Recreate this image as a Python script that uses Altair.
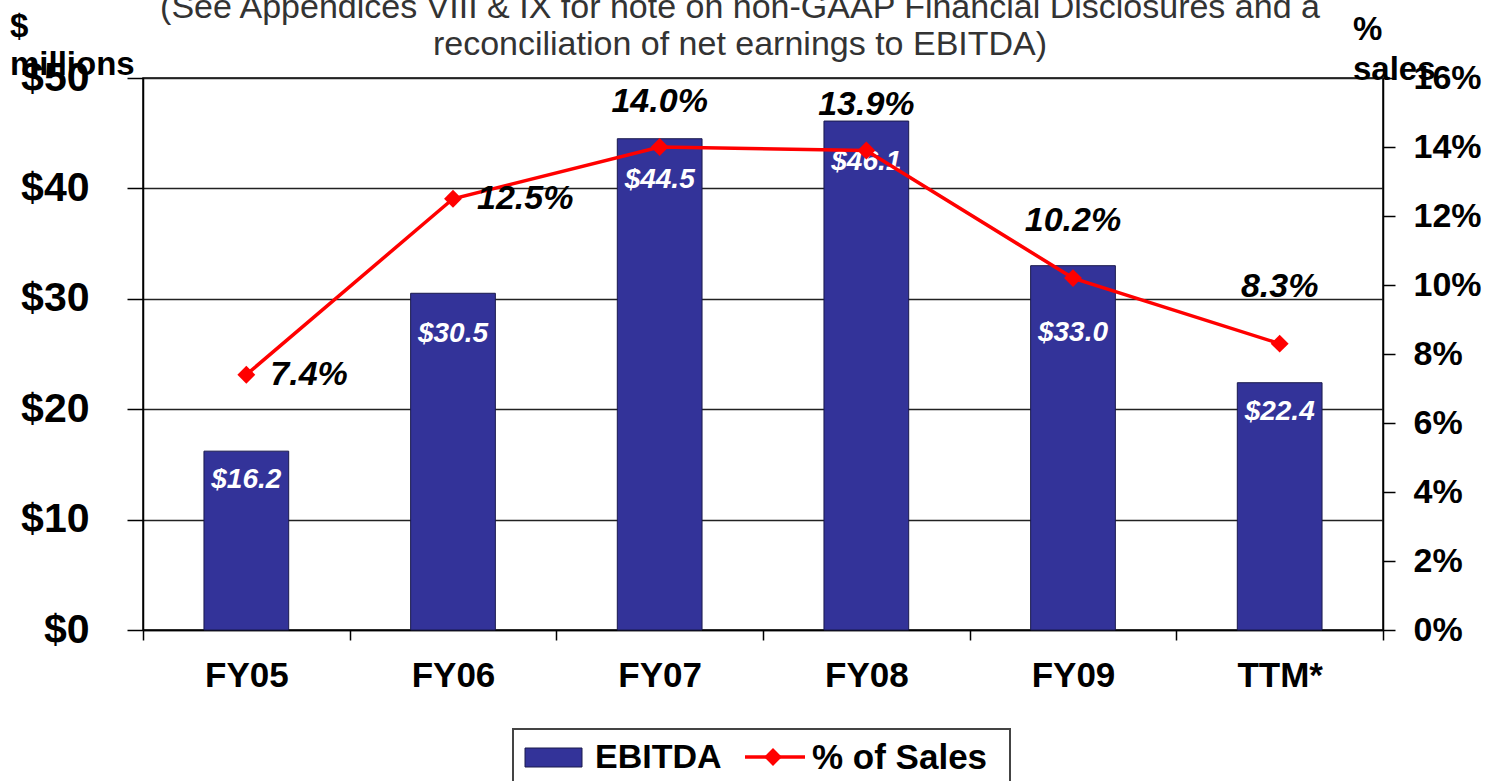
import altair as alt
import pandas as pd

categories = ["FY05", "FY06", "FY07", "FY08", "FY09", "TTM*"]
ebitda = [16.2, 30.5, 44.5, 46.1, 33.0, 22.4]
pct_sales = [7.4, 12.5, 14.0, 13.9, 10.2, 8.3]
left_ticks = [0, 10, 20, 30, 40, 50]
right_ticks = [0, 2, 4, 6, 8, 10, 12, 14, 16]

title_lines = [
    "(See Appendices VIII & IX for note on non-GAAP Financial Disclosures and a",
    "reconciliation of net earnings to EBITDA)",
]

df = pd.DataFrame({"cat": categories, "ebitda": ebitda, "pct": pct_sales})

FONT = "Liberation Sans"
NAVY = "#333399"
RED = "#FF0000"

x_enc = alt.X(
    "cat:N",
    sort=categories,
    scale=alt.Scale(paddingInner=0, paddingOuter=0),
    axis=alt.Axis(
        title=None, labelAngle=0, labelFont=FONT, labelFontSize=35,
        labelFontWeight="bold", labelColor="black", tickBand="extent",
        tickSize=10, tickColor="black", tickWidth=1.5, domainColor="black",
        domainWidth=1.5, labelPadding=18,
    ),
)

y_left = alt.Y(
    "ebitda:Q",
    scale=alt.Scale(domain=[0, 50], nice=False),
    axis=alt.Axis(
        title=None, values=left_ticks, labelExpr="'$' + datum.value",
        labelFont=FONT, labelFontSize=41, labelFontWeight="bold",
        labelColor="black", tickSize=16, tickColor="black", tickWidth=1.5,
        domainColor="black", domainWidth=1.5, grid=True, gridColor="#222222",
        gridWidth=1.5, labelPadding=38, orient="left",
    ),
)

base = alt.Chart(df)

bars = base.mark_bar(
    color=NAVY, stroke="#1a1a4d", strokeWidth=1, width=alt.RelativeBandSize(0.41)
).encode(x=x_enc, y=y_left)

bar_lab_base = base.transform_calculate(lab="'$' + format(datum.ebitda, '.1f')")
bar_lab_style = dict(font=FONT, fontSize=28, fontWeight="bold", fontStyle="italic",
                     color="white", baseline="middle")


def bar_lab(cats, dy):
    return bar_lab_base.transform_filter(
        alt.FieldOneOfPredicate(field="cat", oneOf=cats)
    ).mark_text(dy=dy, **bar_lab_style).encode(x=x_enc, y=y_left, text="lab:N")


bar_group = alt.layer(
    bars,
    bar_lab(["FY05", "TTM*"], 29),
    bar_lab(["FY06", "FY07", "FY08"], 41),
    bar_lab(["FY09"], 67),
)

y_right = alt.Y(
    "pct:Q",
    scale=alt.Scale(domain=[0, 16], nice=False),
    axis=alt.Axis(
        title=None, values=right_ticks, labelExpr="datum.value + '%'",
        labelFont=FONT, labelFontSize=34, labelFontWeight="bold",
        labelColor="black", tickSize=12, tickColor="black", tickWidth=1.5,
        domainColor="black", domainWidth=1.5, grid=False, labelPadding=18,
        orient="right",
    ),
)

line = base.mark_line(color=RED, strokeWidth=3.5).encode(x=x_enc, y=y_right)
points = base.mark_point(
    shape="diamond", filled=True, color=RED, size=320, opacity=1
).encode(x=x_enc, y=y_right)

pct_base = base.transform_calculate(lab="format(datum.pct, '.1f') + '%'")
pct_style = dict(font=FONT, fontSize=34, fontWeight="bold", fontStyle="italic",
                 color="black", baseline="middle")
lab_right = pct_base.transform_filter(
    alt.FieldOneOfPredicate(field="cat", oneOf=["FY05", "FY06"])
).mark_text(align="left", dx=24, **pct_style).encode(
    x=x_enc, y=y_right, text="lab:N")
lab_up1 = pct_base.transform_filter(
    alt.FieldOneOfPredicate(field="cat", oneOf=["FY07", "FY08"])
).mark_text(align="center", dy=-45, **pct_style).encode(
    x=x_enc, y=y_right, text="lab:N")
lab_up2 = pct_base.transform_filter(
    alt.FieldOneOfPredicate(field="cat", oneOf=["FY09", "TTM*"])
).mark_text(align="center", dy=-57, **pct_style).encode(
    x=x_enc, y=y_right, text="lab:N")

line_group = alt.layer(line, points, lab_right, lab_up1, lab_up2)

one = alt.Data(values=[{"a": 1}])


def txt(s, x, y, **kw):
    return alt.Chart(one).mark_text(text=s, font=FONT, **kw).encode(
        x=alt.value(x), y=alt.value(y))


annots = [
    txt(title_lines[0], 597, -60, fontSize=34, color="#333333", align="center", baseline="alphabetic"),
    txt(title_lines[1], 597, -23, fontSize=34, color="#333333", align="center", baseline="alphabetic"),
    txt("$", -133, -41, fontSize=33, fontWeight="bold", color="black", align="left", baseline="alphabetic"),
    txt("millions", -133, -3, fontSize=33, fontWeight="bold", color="black", align="left", baseline="alphabetic"),
    txt("%", 1210, -38, fontSize=33, fontWeight="bold", color="black", align="left", baseline="alphabetic"),
    txt("sales", 1210, 2, fontSize=33, fontWeight="bold", color="black", align="left", baseline="alphabetic"),
]

legend_box = alt.Chart(one).mark_rect(fill="white", stroke="#444444", strokeWidth=2).encode(
    x=alt.value(370), x2=alt.value(867), y=alt.value(651), y2=alt.value(720))
legend_swatch = alt.Chart(one).mark_rect(fill=NAVY, stroke="#1a1a4d", strokeWidth=1).encode(
    x=alt.value(382), x2=alt.value(439), y=alt.value(670), y2=alt.value(689))
legend_line = alt.Chart(one).mark_rule(color=RED, strokeWidth=3.5).encode(
    x=alt.value(602), x2=alt.value(662), y=alt.value(679))
legend_pt = alt.Chart(one).mark_point(shape="diamond", filled=True, color=RED, size=320, opacity=1).encode(
    x=alt.value(630), y=alt.value(679))
legend_t1 = txt("EBITDA", 452, 680, fontSize=34, fontWeight="bold", color="black", align="left", baseline="middle")
legend_t2 = txt("% of Sales", 669, 680, fontSize=35, fontWeight="bold", color="black", align="left", baseline="middle")

chart = alt.layer(
    bar_group, line_group, *annots,
    legend_box, legend_swatch, legend_line, legend_pt, legend_t1, legend_t2,
).resolve_scale(y="independent").properties(
    width=1240, height=552,
    padding={"left": 143, "top": 78, "right": 113, "bottom": 151},
    autosize=alt.AutoSizeParams(type="none"),
    background="white",
).configure_view(stroke="black", strokeWidth=1.5)

chart.save("out.html", embed_options={"renderer": "svg", "actions": False})
